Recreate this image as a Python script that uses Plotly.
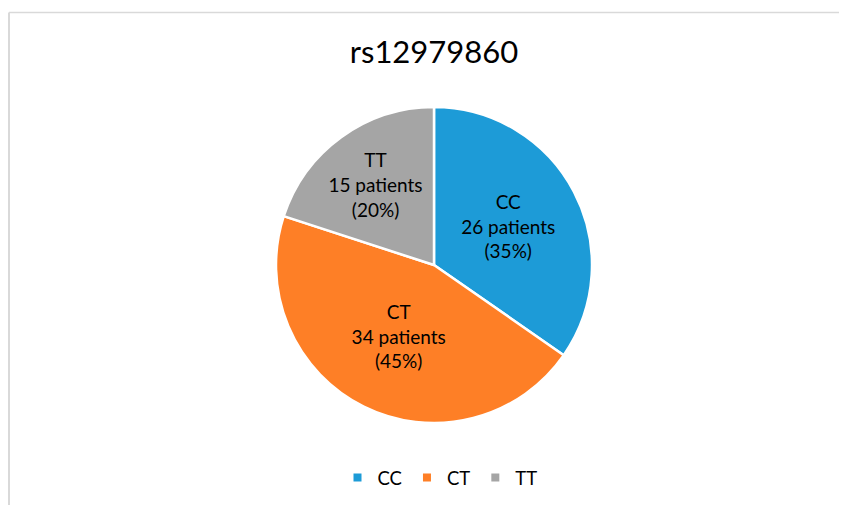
import plotly.graph_objects as go

genotypes = ["CC", "CT", "TT"]
patients = [26, 34, 15]
colors = ["#1D9BD7", "#FE7F26", "#A5A5A5"]
title_text = "rs12979860"

W, H = 847, 505
FONT = "Lato"
CX, CY, R = 426, 257, 158

fig = go.Figure()
fig.add_trace(go.Pie(
    labels=genotypes,
    values=patients,
    sort=False,
    direction="clockwise",
    rotation=0,
    marker=dict(colors=colors, line=dict(color="white", width=2.5)),
    texttemplate="%{label}<br>%{value} patients<br>(%{percent:.0%})",
    textposition="inside",
    insidetextorientation="horizontal",
    textfont=dict(family=FONT, size=19, color="#000000"),
    hoverinfo="label+value+percent",
    showlegend=False,
    domain=dict(x=[(CX - R) / W, (CX + R) / W], y=[(H - CY - R) / H, (H - CY + R) / H]),
))

for g, c in zip(genotypes, colors):
    fig.add_trace(go.Scatter(
        x=[None], y=[None], mode="markers", name=g,
        marker=dict(symbol="square", size=8, color=c),
        showlegend=True, hoverinfo="skip",
    ))

fig.update_layout(
    width=W, height=H,
    margin=dict(l=0, r=0, t=0, b=0),
    paper_bgcolor="white", plot_bgcolor="white",
    xaxis=dict(visible=False), yaxis=dict(visible=False),
    uniformtext=dict(minsize=19, mode="show"),
    title=dict(text=title_text, x=CX / W, xanchor="center", y=1 - 44 / H, yanchor="middle",
               font=dict(family=FONT, size=31, color="#000000")),
    legend=dict(orientation="h", x=432 / W, xanchor="center", y=1 - 470 / H, yanchor="middle",
                font=dict(family=FONT, size=18.5, color="#000000"), itemwidth=30,
                bgcolor="rgba(0,0,0,0)"),
    shapes=[
        dict(type="line", xref="paper", yref="paper", x0=1 / W, x1=1 / W, y0=-0.05, y1=1 - 4.5 / H,
             line=dict(color="#D9D9D9", width=2)),
        dict(type="line", xref="paper", yref="paper", x0=1 / W, x1=1, y0=1 - 4.5 / H, y1=1 - 4.5 / H,
             line=dict(color="#D9D9D9", width=1.5)),
    ],
)

fig.write_html("out.html")
